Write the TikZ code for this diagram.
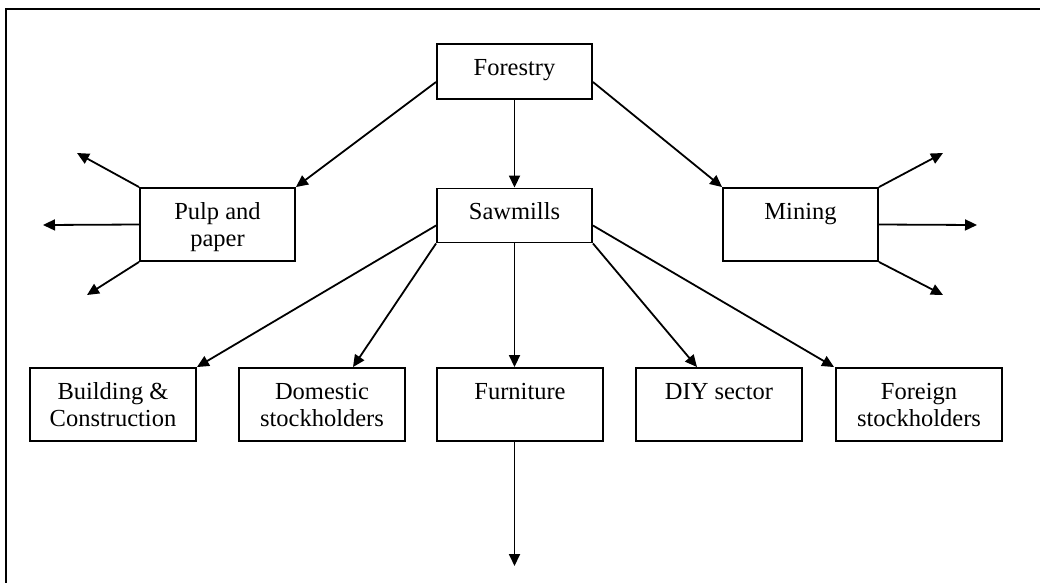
\documentclass[tikz,border=0pt]{standalone}
\usepackage{fontspec}
\setmainfont{Liberation Serif}
\usetikzlibrary{arrows.meta}
\begin{document}
\begin{tikzpicture}[x=1pt,y=-1pt,
  boxw/.store in=\bw, boxh/.store in=\bh, boxw=155pt, boxh=73pt,
  card/.style={draw, line width=1.9pt, inner sep=0pt,
    font=\fontsize{24.5}{27.6}\selectfont,
    execute at begin node={\begin{minipage}[c][\bh][t]{\bw}\centering\rule{0pt}{31pt}\ignorespaces},
    execute at end node={\end{minipage}}},
  wide/.style={card, boxw=166pt},
  flow/.style={line width=1.8pt, -{Triangle[length=12pt,width=11pt]}}]
\useasboundingbox (0,0) rectangle (1040,582);
% outer frame (only the top and left edges fall on the page)
\draw[line width=1.9pt] (6,600) -- (6,9) -- (1060,9);

% boxes
\node[card, boxh=55pt] (forestry) at (514.5,71.5) {Forestry};
\node[card, boxh=54pt] (sawmills) at (514.5,215.5) {Sawmills};
\node[card] (pulp) at (217.5,224.5) {Pulp and\\paper};
\node[card] (mining) at (800.5,224.5) {Mining};
\node[wide] (building) at (113,404.5) {Building \&\\Construction};
\node[wide] (domestic) at (322,404.5) {Domestic\\stockholders};
\node[wide] (furniture) at (520,404.5) {Furniture};
\node[wide] (diy) at (719,404.5) {DIY sector};
\node[wide] (foreign) at (919,404.5) {Foreign\\stockholders};

% free ends of the outgoing arrows
\coordinate (pulpA) at (77,153);
\coordinate (pulpB) at (43,225);
\coordinate (pulpC) at (87,295);
\coordinate (minA) at (943,153);
\coordinate (minB) at (977,225);
\coordinate (minC) at (943,295);
\coordinate (furnout) at (514.5,566);

% forestry
\draw[flow] ([yshift=-10.5pt]forestry.west) -- (pulp.north east);
\draw[flow] (forestry.south) -- (sawmills.north);
\draw[flow] ([yshift=-10.5pt]forestry.east) -- (mining.north west);

% pulp and paper / mining outputs
\draw[flow] (pulp.north west) -- (pulpA);
\draw[flow] (pulp.west) -- (pulpB);
\draw[flow] (pulp.south west) -- (pulpC);
\draw[flow] (mining.north east) -- (minA);
\draw[flow] (mining.east) -- (minB);
\draw[flow] (mining.south east) -- (minC);

% sawmills
\draw[flow] ([yshift=-10pt]sawmills.west) -- (building.north east);
\draw[flow] (sawmills.south west) -- ([xshift=31pt]domestic.north);
\draw[flow] (sawmills.south) -- ([xshift=-5.5pt]furniture.north);
\draw[flow] (sawmills.south east) -- ([xshift=-22pt]diy.north);
\draw[flow] ([yshift=-10pt]sawmills.east) -- ([xshift=-1pt]foreign.north west);

% furniture
\draw[flow] ([xshift=-5.5pt]furniture.south) -- (furnout);
\end{tikzpicture}
\end{document}
